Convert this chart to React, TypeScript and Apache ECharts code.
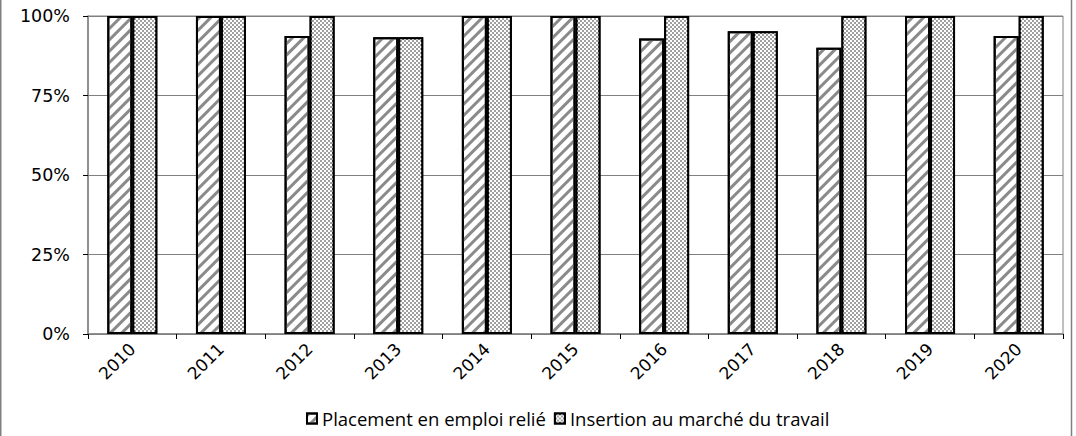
import React, { useEffect, useRef } from "react";
import * as echarts from "echarts";

const years = ["2010", "2011", "2012", "2013", "2014", "2015", "2016", "2017", "2018", "2019", "2020"];
const placement = [100, 100, 93.75, 93.3, 100, 100, 92.9, 95.2, 90, 100, 93.75];
const insertion = [100, 100, 100, 93.3, 100, 100, 100, 95.2, 100, 100, 100];
const seriesNames = ["Placement en emploi relié", "Insertion au marché du travail"];
const FONT = "'Open Sans', sans-serif";
const AXIS_FONT = "'DejaVu Sans', sans-serif";

export default function App() {
  const ref = useRef<HTMLDivElement>(null);
  useEffect(() => {
    document.body.style.margin = "0";
    const chart = echarts.init(ref.current!, null, { renderer: "svg" });
    const stripeDecal = {
      symbol: "rect",
      symbolSize: 1,
      color: "#8a8a8a",
      dashArrayX: [1, 0],
      dashArrayY: [3, 4.5],
      rotation: -Math.PI / 4,
    };
    const dotDecal = {
      symbol: "rect",
      symbolSize: 1,
      color: "#ffffff",
      dashArrayX: [[1.5, 1.5], [0, 1.5, 1.5, 0]],
      dashArrayY: [1.5, 0],
      rotation: 0,
    };
    chart.setOption({
      animation: false,
      backgroundColor: "#ffffff",
      textStyle: { fontFamily: FONT },
      grid: {
        left: 88,
        right: 13,
        top: 16,
        bottom: 102,
        show: true,
        borderColor: "#808080",
        borderWidth: 1,
      },
      legend: {
        bottom: 3,
        left: 301,
        itemWidth: 10,
        itemHeight: 10,
        itemGap: 8,
        icon: "rect",
        textStyle: { fontFamily: FONT, fontSize: 18.5, color: "#000" },
        data: seriesNames,
      },
      xAxis: {
        type: "category",
        data: years,
        axisLine: { lineStyle: { color: "#808080", width: 1.5 } },
        axisTick: { show: true, length: 5, lineStyle: { color: "#000" } },
        axisLabel: {
          rotate: 45,
          margin: 12,
          fontFamily: AXIS_FONT,
          fontSize: 17,
          color: "#000",
        },
      },
      yAxis: {
        type: "value",
        min: 0,
        max: 100,
        interval: 25,
        axisLine: { show: true, lineStyle: { color: "#808080", width: 1.5 } },
        axisTick: { show: true, length: 5, lineStyle: { color: "#000" } },
        axisLabel: {
          formatter: "{value}%",
          margin: 18,
          fontFamily: AXIS_FONT,
          fontSize: 17.5,
          color: "#000",
        },
        splitLine: { lineStyle: { color: "#808080", width: 1 } },
      },
      series: [
        {
          name: seriesNames[0],
          type: "bar",
          data: placement,
          barWidth: 25,
          barGap: "0%",
          itemStyle: { color: "#ffffff", borderColor: "#000", borderWidth: 2, decal: stripeDecal },
        },
        {
          name: seriesNames[1],
          type: "bar",
          data: insertion,
          barWidth: 25,
          barGap: "0%",
          itemStyle: { color: "#a0a0a0", borderColor: "#000", borderWidth: 2, decal: dotDecal },
        },
      ],
      graphic: [
        { type: "line", shape: { x1: 0.75, y1: 0, x2: 0.75, y2: 436 }, style: { stroke: "#808080", lineWidth: 1.5 } },
        { type: "line", shape: { x1: 1071.5, y1: 0, x2: 1071.5, y2: 436 }, style: { stroke: "#808080", lineWidth: 1.5 } },
      ],
    });
    return () => chart.dispose();
  }, []);
  return <div ref={ref} style={{ width: 1076, height: 436, position: "absolute", left: 0, top: 0 }} />;
}
